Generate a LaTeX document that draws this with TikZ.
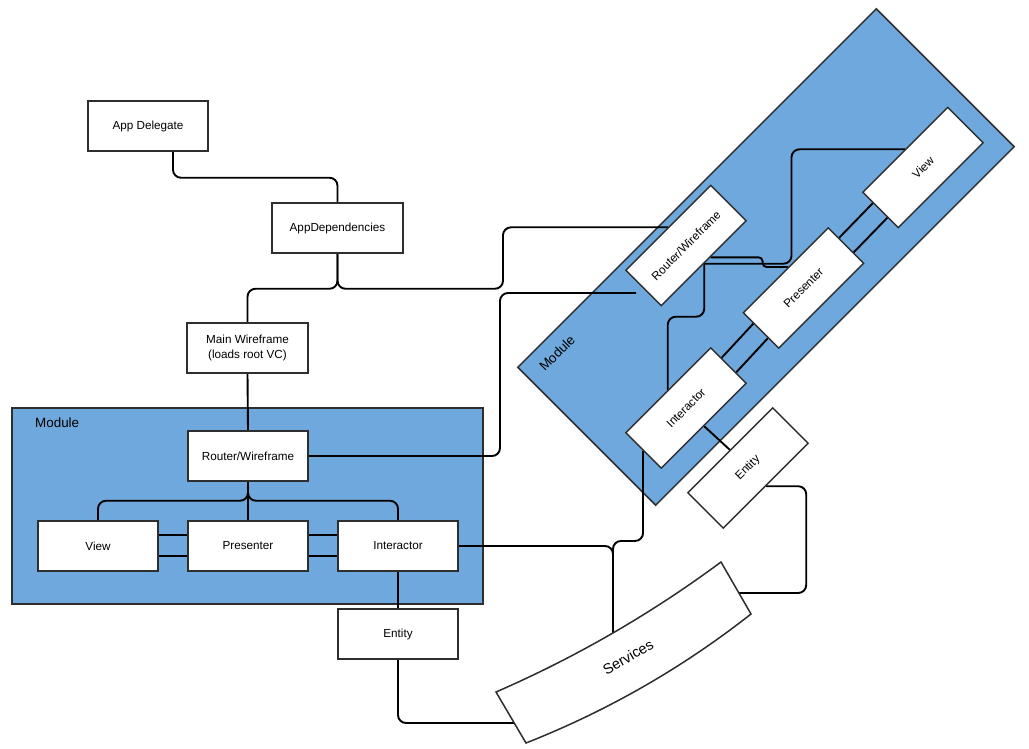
\documentclass[tikz,border=0pt]{standalone}
\usepackage{fontspec}
\setmainfont{Liberation Sans}
\usetikzlibrary{calc}
\pgfdeclarelayer{bg}
\pgfdeclarelayer{lines}
\pgfsetlayers{bg,lines,main}
\definecolor{modfill}{HTML}{6FA8DC}
\definecolor{edgegray}{HTML}{2E2E2E}
\begin{document}
\begin{tikzpicture}[x=1pt,y=-1pt,
  box/.style={draw=edgegray, fill=white, line width=1.5pt, minimum width=120pt, minimum height=50pt, inner sep=2pt, font=\fontsize{11.7}{15}\selectfont},
  module/.style={draw=edgegray, fill=modfill, line width=1.5pt, inner sep=0pt},
  conn/.style={draw=black, line width=1.9pt, rounded corners=8pt},
  dbl/.style={draw=black, line width=1.9pt},
  lbl/.style={font=\fontsize{13.4}{16}\selectfont, inner sep=0pt}]
\useasboundingbox (0,0) rectangle (1029,748);
% modules
\begin{pgfonlayer}{bg}
\node[module, minimum width=471pt, minimum height=196pt] (modL) at (247.5,506) {};
\node[module, rotate=45, minimum width=507pt, minimum height=195pt] (modR) at (766,257) {};
\end{pgfonlayer}
\node[lbl, anchor=west] (modLlbl) at (35,423) {Module};
\node[lbl, rotate=45] (modRlbl) at (557,353) {Module};
% left boxes
\node[box] (appdel) at (148,126) {App Delegate};
\node[box, minimum width=131pt] (appdep) at (337.5,228) {AppDependencies};
\node[box, minimum width=121pt, align=center] (mainwf) at (247.5,348) {Main Wireframe\\(loads root VC)};
\node[box] (router) at (248,456) {Router/Wireframe};
\node[box] (view) at (98,546) {View};
\node[box] (presenter) at (248,546) {Presenter};
\node[box] (interactor) at (398,546) {Interactor};
\node[box] (entity) at (398,634) {Entity};
% right boxes
\node[box, rotate=45] (router2) at (686,245.5) {Router/Wireframe};
\node[box, rotate=45] (view2) at (923,167.5) {View};
\node[box, rotate=45] (presenter2) at (803.5,288) {Presenter};
\node[box, rotate=45] (interactor2) at (686,408) {Interactor};
\node[box, rotate=45] (entity2) at (748,468) {Entity};
% services
\coordinate (svA) at (496,692);
\coordinate (svB) at (721,562);
\coordinate (svE) at (751,614);
\coordinate (svD) at (526,743);
\draw[draw=edgegray, fill=white, line width=1.5pt] (svA) .. controls (575.9,657.2) and (650.9,613.9) .. (svB) -- (svE) .. controls (682.3,668) and (607.3,710.9) .. (svD) -- cycle;
\node[rotate=30, font=\fontsize{14.5}{17}\selectfont, inner sep=0pt] (services) at (628,657) {Services};
\coordinate (svtop) at (613,633.5);
\coordinate (svleft) at (514,723);
\coordinate (svright) at (739,593);
\coordinate (dangle) at (636,293);
% connectors
\begin{pgfonlayer}{lines}
\draw[conn] ([xshift=25pt]appdel.south) -- ++(0,26) -| (appdep.north);
\draw[conn] (appdep.south) -- ++(0,35) -| (mainwf.north);
\draw[conn] (appdep.south) -- ++(0,35) -| (503,260) |- (router2.north);
\draw[conn] (mainwf.south) -- (router.north);
\draw[conn] (router.east) -| (500,380) |- (dangle);
\draw[conn] (router.south) -- ++(0,19) -| (view.north);
\draw[conn] (router.south) -- (presenter.north);
\draw[conn] (router.south) -- ++(0,19) -| (interactor.north);
\draw[dbl] ([yshift=11pt]view.east) -- ([yshift=11pt]presenter.west);
\draw[dbl] ([yshift=-10pt]view.east) -- ([yshift=-10pt]presenter.west);
\draw[dbl] ([yshift=11pt]presenter.east) -- ([yshift=11pt]interactor.west);
\draw[dbl] ([yshift=-10pt]presenter.east) -- ([yshift=-10pt]interactor.west);
\draw[conn] (interactor.east) -| (svtop);
\draw[conn] (interactor.south) -- (entity.north);
\draw[conn] (entity.south) |- (svleft);
% right module
\draw[conn] (interactor2.west) -- ++(0,90) -| (svtop);
\draw[conn] (interactor2.south) -- (entity2.north);
\draw[conn] (entity2.south) -- ++(40,0) |- (svright);
\draw[conn] (router2.south) -- ++(87.3,0) |- (view2.north);
\draw[conn] (router2.south) -- ++(0,53) -| (interactor2.north);
\draw[conn, rounded corners=4pt] ([xshift=6.4pt,yshift=6.4pt]router2.south) -- ++(52,0) |- ([xshift=2.8pt,yshift=2.8pt]presenter2.north);
\draw[dbl] ($(presenter2.east)!0.4!(presenter2.north east)$) -- ($(view2.west)!0.4!(view2.north west)$);
\draw[dbl] ($(presenter2.east)!0.4!(presenter2.south east)$) -- ($(view2.west)!0.4!(view2.south west)$);
\draw[dbl] ($(interactor2.east)!0.4!(interactor2.north east)$) -- ($(presenter2.west)!0.4!(presenter2.north west)$);
\draw[dbl] ($(interactor2.east)!0.4!(interactor2.south east)$) -- ($(presenter2.west)!0.4!(presenter2.south west)$);
\end{pgfonlayer}
\end{tikzpicture}
\end{document}
